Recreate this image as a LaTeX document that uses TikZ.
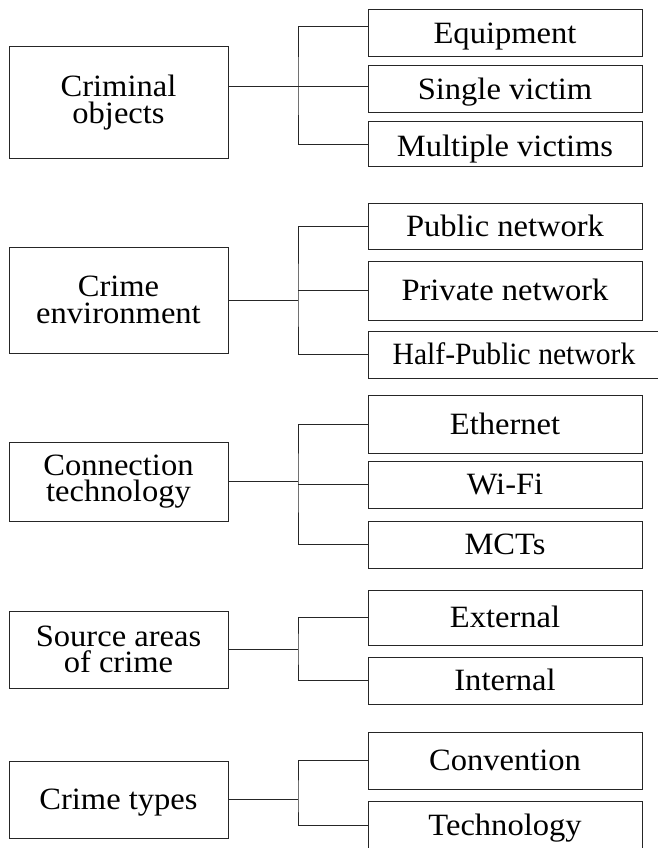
\documentclass[tikz,border=0pt]{standalone}
\usepackage{fontspec}
\setmainfont{Liberation Serif}[FakeStretch=1.05]
\usepackage{graphicx}

\begin{document}
\begin{tikzpicture}[x=1pt,y=-1pt,
    every node/.style={font=\fontsize{31}{26.5}\selectfont},
    box/.style={draw=black!85,line width=1pt,inner sep=0pt,align=center},
    leftbox/.style={box,minimum width=219pt},
    rightbox/.style={box,minimum width=274pt,minimum height=47pt,
      text height=20.5pt,text depth=0pt},
    link/.style={draw=black!85,line width=1pt}]
  \useasboundingbox (0,0) rectangle (657,848);

  % criminal objects
  \node[leftbox,minimum height=111pt] (co) at (118.5,102.5) {Criminal\\objects};
  \node[rightbox] (eq) at (505,33.5) {Equipment};
  \node[rightbox] (sv) at (505,89.5) {Single victim};
  \node[rightbox,minimum height=44pt,text height=26pt] (mv) at (505,144)
    {Multiple victims};
  \coordinate (j1) at (298,86.5);
  \draw[link] ([yshift=16pt]co.east) -- (j1) -- (j1 -| sv.west);
  \draw[link] ([yshift=6.5pt]eq.west) -| (j1) |- (mv.west);

  % crime environment
  \node[leftbox,minimum height=106pt] (ce) at (118.5,300) {Crime\\environment};
  \node[rightbox,minimum height=46pt] (pub) at (505,226) {Public network};
  \node[rightbox,minimum height=59pt] (pri) at (505,290.5) {Private network};
  \node[rightbox,minimum width=292pt] (half) at (514,354.5)
    {\scalebox{.91}[1]{Half-Public network}};
  \coordinate (j2) at (298,300);
  \draw[link] (ce.east) -- (j2);
  \draw[link] (pub.west) -| (j2) |- (half.west);
  \draw[link] (j2 |- pri.west) -- (pri.west);

  % connection technology
  \node[leftbox,minimum height=79pt] (ct) at (118.5,481.5) {Connection\\technology};
  \node[rightbox,minimum height=58pt] (eth) at (505,424) {Ethernet};
  \node[rightbox] (wifi) at (505,484.5) {Wi-Fi};
  \node[rightbox] (mct) at (505,544.5) {MCTs};
  \coordinate (j3) at (298,481.5);
  \draw[link] (ct.east) -- (j3);
  \draw[link] (eth.west) -| (j3) |- (mct.west);
  \draw[link] (j3 |- wifi.west) -- (wifi.west);

  % source areas
  \node[leftbox,minimum height=77pt] (sa) at (118.5,649.5) {Source areas\\of crime};
  \node[rightbox,minimum height=55pt] (ext) at (505,617.5) {External};
  \node[rightbox] (int) at (505,680.5) {Internal};
  \coordinate (j4) at (298,649.5);
  \draw[link] (sa.east) -- (j4);
  \draw[link] (ext.west) -| (j4) |- (int.west);

  % crime types
  \node[leftbox,minimum height=77pt,text height=20.5pt,text depth=0pt] (cty)
    at (118.5,799.5) {Crime types};
  \node[rightbox,minimum height=57pt] (conv) at (505,760.5) {Convention};
  \node[rightbox,minimum height=49pt] (tech) at (505,825.5) {Technology};
  \coordinate (j5) at (298,799.5);
  \draw[link] (cty.east) -- (j5);
  \draw[link] (conv.west) -| (j5) |- (tech.west);
\end{tikzpicture}
\end{document}
